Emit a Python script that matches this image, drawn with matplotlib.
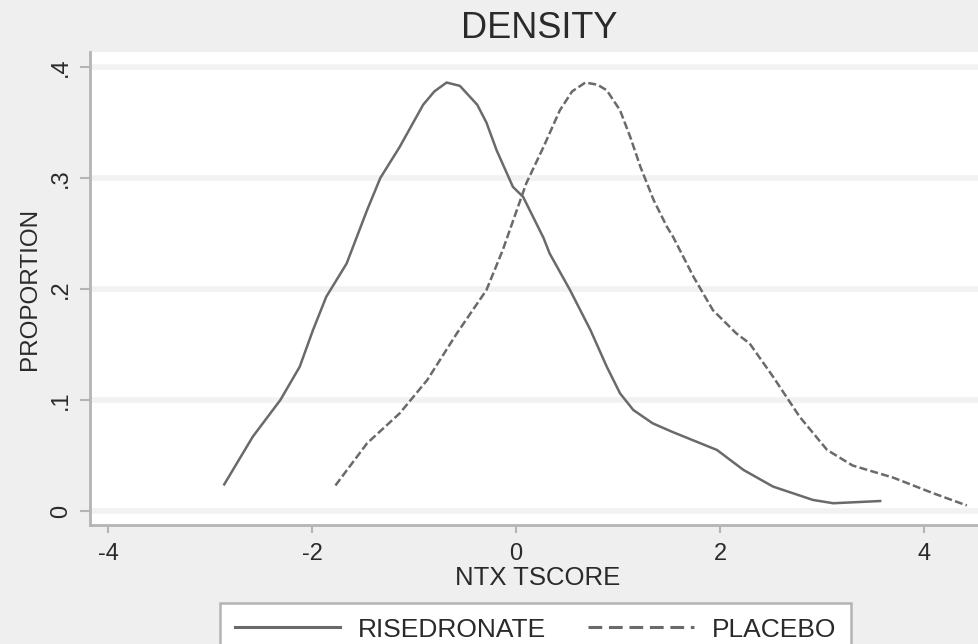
import matplotlib
matplotlib.use("Agg")
import matplotlib.pyplot as plt
from matplotlib.lines import Line2D

plt.rcParams['font.family'] = ['Liberation Sans', 'DejaVu Sans']

# density curves
rise_x = [-2.86, -2.58, -2.31, -2.12, -1.99, -1.86, -1.66, -1.46, -1.33, -1.14,
          -0.91, -0.80, -0.68, -0.55, -0.38, -0.29, -0.19, -0.03, 0.07, 0.27,
          0.33, 0.53, 0.73, 0.89, 1.02, 1.15, 1.34, 1.54, 1.97, 2.23,
          2.52, 2.91, 3.11, 3.57]
rise_y = [0.024, 0.067, 0.100, 0.130, 0.163, 0.193, 0.223, 0.271, 0.300, 0.328,
          0.366, 0.378, 0.386, 0.383, 0.366, 0.350, 0.325, 0.292, 0.283, 0.246,
          0.232, 0.199, 0.163, 0.130, 0.106, 0.091, 0.079, 0.071, 0.055, 0.037,
          0.022, 0.010, 0.007, 0.009]

plac_x = [-1.77, -1.46, -1.14, -0.87, -0.58, -0.29, -0.13, 0.10, 0.27, 0.43,
          0.55, 0.68, 0.80, 0.89, 1.02, 1.12, 1.22, 1.35, 1.48, 1.54,
          1.74, 1.93, 2.16, 2.29, 2.52, 2.78, 3.05, 3.30, 3.70, 4.09, 4.42]
plac_y = [0.023, 0.061, 0.088, 0.118, 0.160, 0.199, 0.235, 0.295, 0.328, 0.361,
          0.378, 0.386, 0.384, 0.379, 0.361, 0.337, 0.310, 0.280, 0.256, 0.247,
          0.211, 0.181, 0.160, 0.151, 0.121, 0.085, 0.055, 0.041, 0.030, 0.016, 0.005]

x_ticks = [-4, -2, 0, 2, 4]
x_labels = ['-4', '-2', '0', '2', '4']
y_ticks = [0, 0.1, 0.2, 0.3, 0.4]
y_labels = ['0', '.1', '.2', '.3', '.4']

line_col = '#6a6a6a'
axis_col = '#b4b4b4'
text_col = '#2a2a2a'

fig = plt.figure(figsize=(9.79, 6.44), dpi=100)
fig.patch.set_facecolor('#efefef')
ax = fig.add_axes([90 / 979, 1 - 525 / 644, 1 - 90 / 979, (525 - 52) / 644])
ax.set_facecolor('white')

ax.plot(rise_x, rise_y, color=line_col, lw=1.8, solid_joinstyle='round')
ax.plot(plac_x, plac_y, color=line_col, lw=1.8, dashes=(3.2, 1.3))

ax.set_xlim(-4.176, 4.539)
ax.set_ylim(-0.0126, 0.4135)

ax.set_xticks(x_ticks)
ax.set_xticklabels(x_labels, fontsize=17, color=text_col)
ax.set_yticks(y_ticks)
ax.set_yticklabels(y_labels, fontsize=17, color=text_col, rotation=90, va='center')
ax.tick_params(axis='x', length=6, width=1.5, color=axis_col, pad=7)
ax.tick_params(axis='y', length=7, width=1.5, color=axis_col, pad=6)

ax.yaxis.grid(True, color='#f2f2f2', linewidth=4)
ax.set_axisbelow(True)

for s in ['top', 'right']:
    ax.spines[s].set_visible(False)
for s in ['left', 'bottom']:
    ax.spines[s].set_color(axis_col)
    ax.spines[s].set_linewidth(2)

ax.set_xlabel('NTX TSCORE', fontsize=18.5, color=text_col, va='top')
ax.xaxis.set_label_coords(0.503, -0.087)
ax.set_ylabel('PROPORTION', fontsize=17.5, color=text_col)
ax.yaxis.set_label_coords(-0.055, 0.5)

fig.text(539 / 979, 1 - 28 / 644, 'DENSITY', ha='center', va='center',
         fontsize=26, color=text_col)

handles = [Line2D([], [], color=line_col, lw=2.2),
           Line2D([], [], color=line_col, lw=2.2, dashes=(4.5, 2.2))]
leg = ax.legend(handles, ['RISEDRONATE', 'PLACEBO'], ncol=2, fontsize=19,
                loc='upper left', bbox_to_anchor=(220 / 979, 1 - 603 / 644),
                bbox_transform=fig.transFigure, borderaxespad=0,
                handlelength=4.0, handletextpad=0.68, columnspacing=1.6,
                borderpad=0.55, fancybox=False, framealpha=1)
leg.get_frame().set_edgecolor(axis_col)
leg.get_frame().set_linewidth(1.8)
for t in leg.get_texts():
    t.set_color(text_col)

fig.savefig('out.png', dpi=100, facecolor=fig.get_facecolor())
